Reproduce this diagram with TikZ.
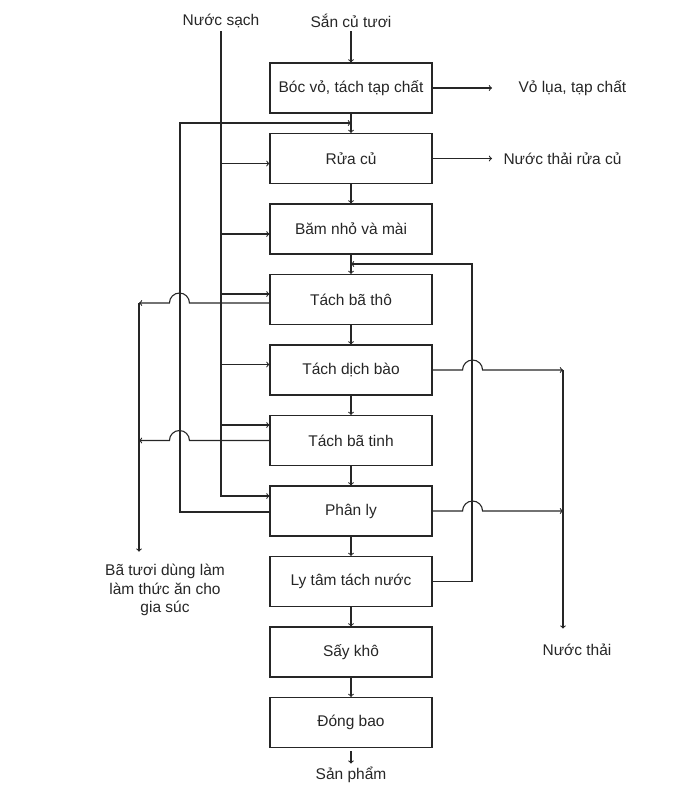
\documentclass[tikz,border=0pt]{standalone}
\usepackage{fontspec}
\setmainfont{Liberation Sans}

\begin{document}
\begin{tikzpicture}[->,>=to,x=1pt,y=1pt,node distance=70.5pt,
                    line width=1.1pt,color=black!85,
                    font=\fontsize{15.5}{18.5}\selectfont]
      \tikzstyle{buoc}=[draw,rectangle,minimum width=162pt,minimum height=50pt,inner sep=0pt]
      \tikzstyle{nhan}=[inner sep=3pt,align=center]

      \useasboundingbox (0,0) rectangle (700,-788);

      \node[buoc] (boc)    at (351,-88)       {Bóc vỏ, tách tạp chất};
      \node[buoc] (rua)    [below of=boc]    {Rửa củ};
      \node[buoc] (bam)    [below of=rua]    {Băm nhỏ và mài};
      \node[buoc] (batho)  [below of=bam]    {Tách bã thô};
      \node[buoc] (dich)   [below of=batho]  {Tách dịch bào};
      \node[buoc] (batinh) [below of=dich]   {Tách bã tinh};
      \node[buoc] (phanly) [below of=batinh] {Phân ly};
      \node[buoc] (lytam)  [below of=phanly] {Ly tâm tách nước};
      \node[buoc] (say)    [below of=lytam]  {Sấy khô};
      \node[buoc] (dong)   [below of=say]    {Đóng bao};

      \node[nhan] (san)   at (351,-21)  {Sắn củ tươi};
      \node[nhan] (nuoc)  at (221,-21)  {Nước sạch};
      \node[nhan] (sp)    at (351,-775) {Sản phẩm};
      \node[nhan,anchor=west] (volua) at (515,-88)    {Vỏ lụa, tạp chất};
      \node[nhan,anchor=west] (ntrua) at (500,-158.5) {Nước thải rửa củ};
      \node[nhan] (bata)  at (165,-590) {Bã tươi dùng làm\\làm thức ăn cho\\gia súc};
      \node[nhan] (nthai) at (577,-650) {Nước thải};

      \coordinate (ns)  at (nuoc.south);
      \coordinate (tra) at (180,-123);
      \coordinate (bx)  at (139,-303);
      \coordinate (ph)  at (472,-264);
      \coordinate (nt)  at (563,-370);

      \path (san)    edge (boc)
            (boc)    edge (rua)
                     edge [shorten >=23pt] (volua)
            (rua)    edge (bam)
                     edge [shorten >=8pt] (ntrua)
            (bam)    edge (batho)
            (batho)  edge (dich)
            (dich)   edge (batinh)
            (batinh) edge (phanly)
            (phanly) edge (lytam)
            (lytam)  edge (say)
            (say)    edge (dong)
            (dong)   edge [shorten <=3pt] (sp);

      % nuoc sach
      \draw (ns) |- ([yshift=15pt]phanly.west);
      \foreach \n/\d in {rua/-5,bam/-5,batho/5.5,dich/5.5,batinh/15.5}
        \draw ([yshift=\d pt]ns |- \n.west) -- ([yshift=\d pt]\n.west);

      % hoi luu ve rua cu
      \draw ([yshift=-1pt]phanly.west) -| (tra) -- (tra -| boc.south);

      % ba tuoi
      \draw ([yshift=-3.5pt]batho.west) -- ++(-80,0)
            arc[start angle=0,end angle=180,radius=10] -- (bx);
      \draw (batinh.west) -- ++(-80,0)
            arc[start angle=0,end angle=180,radius=10] -- (bx |- batinh.west);
      \draw (bx) -- ([yshift=9pt]bx |- bata.north);

      % nuoc thai
      \draw (lytam.east) -| (ph) -- (ph -| bam.south);
      \draw (dich.east) -- ++(30,0)
            arc[start angle=180,end angle=0,radius=10] -- (nt);
      \draw (phanly.east) -- ++(30,0)
            arc[start angle=180,end angle=0,radius=10] -- (nt |- phanly.east);
      \draw (nt) -- ([yshift=12pt]nt |- nthai.north);

\end{tikzpicture}
\end{document}
